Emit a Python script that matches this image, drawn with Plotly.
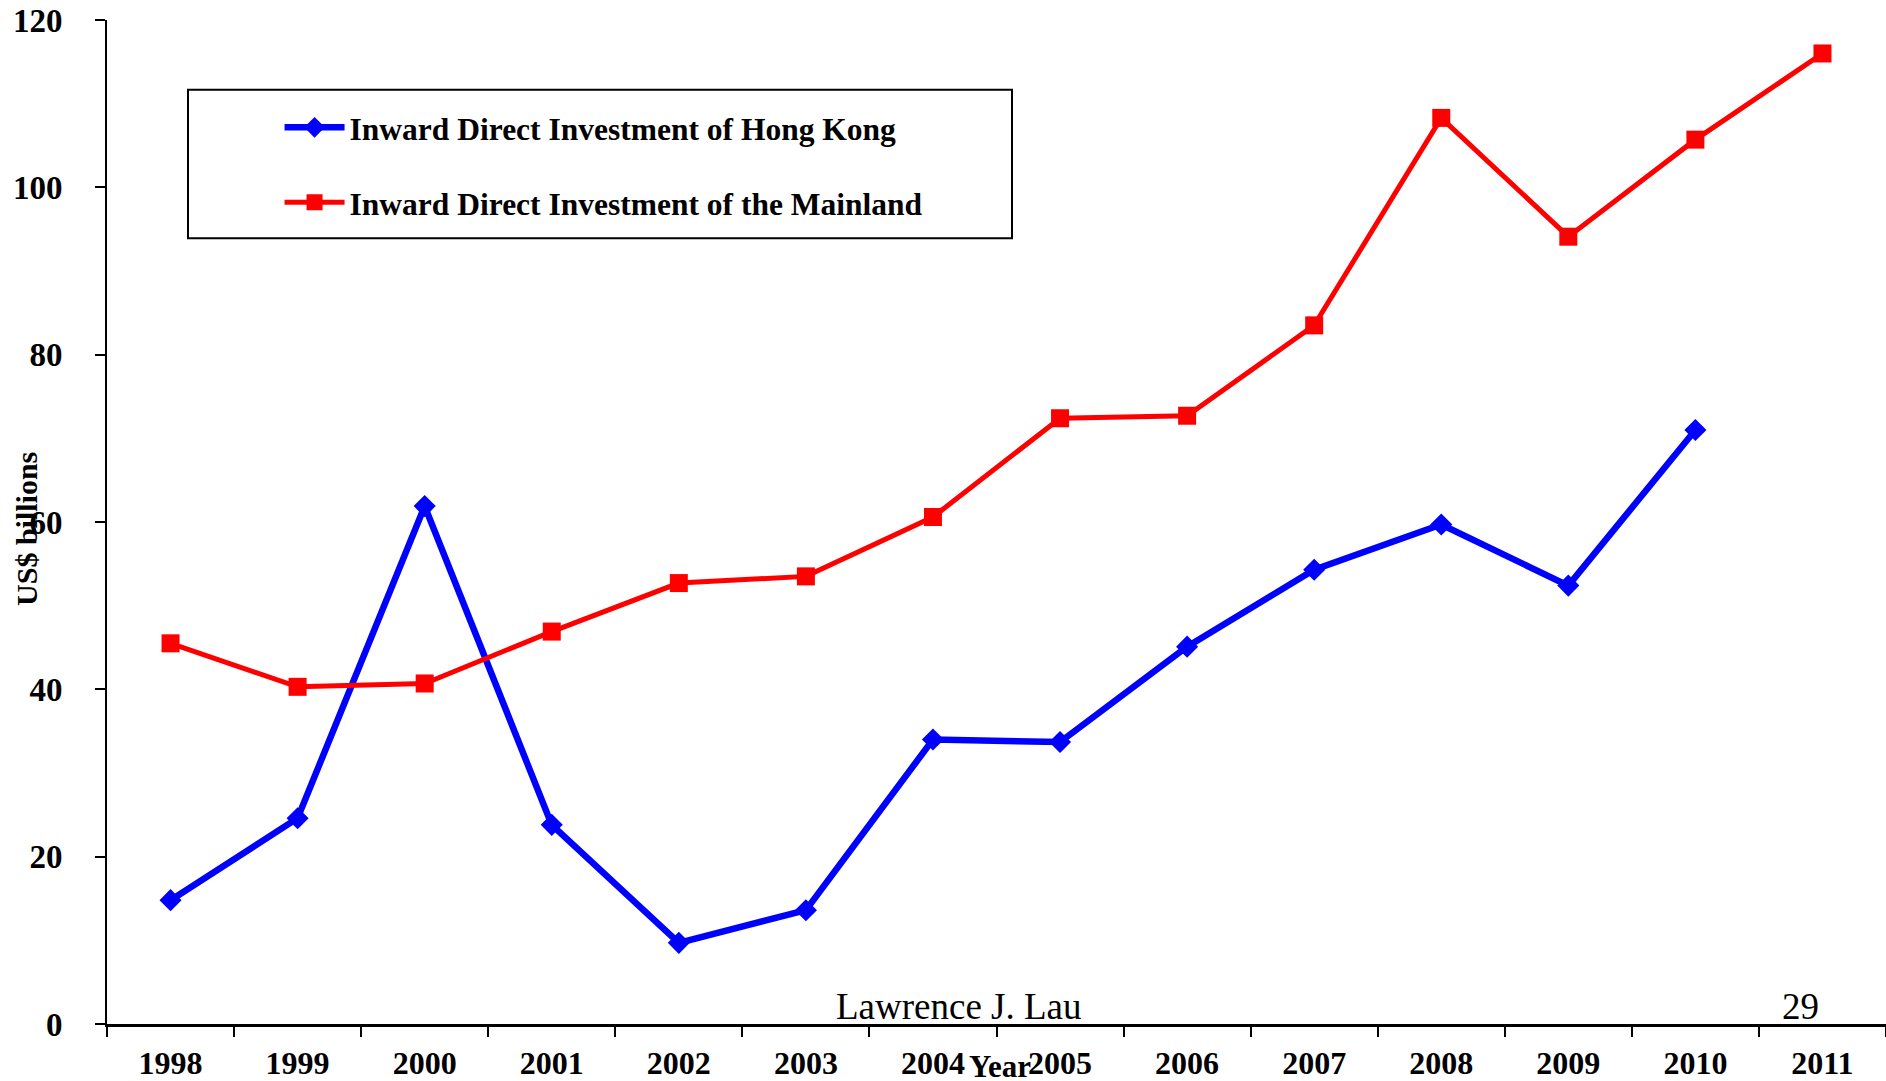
import plotly.graph_objects as go

# Inward FDI, US$ billions
years = ["1998", "1999", "2000", "2001", "2002", "2003", "2004",
         "2005", "2006", "2007", "2008", "2009", "2010", "2011"]
hong_kong = [14.8, 24.6, 61.9, 23.8, 9.7, 13.6, 34.0,
             33.7, 45.1, 54.3, 59.7, 52.4, 71.0, None]
mainland = [45.5, 40.3, 40.7, 46.9, 52.7, 53.5, 60.6,
            72.4, 72.7, 83.5, 108.3, 94.1, 105.7, 116.0]
y_ticks = [0, 20, 40, 60, 80, 100, 120]

SERIF = "Liberation Serif"

fig = go.Figure()
fig.add_trace(go.Scatter(
    x=years, y=hong_kong, mode="lines+markers",
    name="Inward Direct Investment of Hong Kong", legendgroup="hk",
    line=dict(color="#0000FF", width=6.5),
    marker=dict(symbol="diamond", size=17, color="#0000FF"),
))
fig.add_trace(go.Scatter(
    x=years, y=mainland, mode="lines+markers",
    name="Inward Direct Investment of the Mainland", legendgroup="ml",
    line=dict(color="#FF0000", width=5),
    marker=dict(symbol="square", size=18, color="#FF0000"),
))

fig.update_layout(
    width=1886, height=1081,
    margin=dict(l=107, r=0, t=20, b=53),
    paper_bgcolor="white", plot_bgcolor="white",
    font=dict(family=SERIF, color="black", size=31),
    showlegend=True,
    legend=dict(
        x=0.097, y=0.92, xanchor="left", yanchor="top",
        bgcolor="rgba(0,0,0,0)", borderwidth=0,
        font=dict(family=SERIF, size=31.5, weight="bold"),
        itemwidth=60, tracegroupgap=31,
    ),
    shapes=[dict(
        type="rect", xref="paper", yref="paper",
        x0=(188 - 107) / 1779, x1=(1012 - 107) / 1779,
        y0=(1028 - 239) / 1008, y1=(1028 - 90) / 1008,
        line=dict(color="black", width=2),
    )],
)

fig.update_xaxes(
    type="category", range=[-0.5, 13.5],
    showgrid=False, zeroline=False,
    showline=True, linecolor="black", linewidth=3,
    ticks="outside", tickson="boundaries", ticklen=10, tickcolor="black", tickwidth=2,
    tickfont=dict(family=SERIF, size=32, weight="bold"),
    ticklabelstandoff=9,
)
fig.update_yaxes(
    range=[0, 120], tickvals=y_ticks,
    showgrid=False, zeroline=False,
    showline=True, linecolor="black", linewidth=2,
    ticks="outside", ticklen=10, tickcolor="black", tickwidth=2,
    tickfont=dict(family=SERIF, size=33, weight="bold"),
    ticklabelstandoff=26,
)

fig.add_annotation(
    text="US$ billions", textangle=-90,
    xref="paper", yref="paper", x=(27 - 107) / 1779, y=(1028 - 531) / 1008,
    xanchor="center", yanchor="middle",
    showarrow=False, font=dict(family=SERIF, size=30, weight="bold"),
)
fig.add_annotation(
    text="Year", xref="paper", yref="paper",
    x=(1000 - 107) / 1779, y=(1028 - 1071) / 1008,
    xanchor="center", yanchor="middle",
    showarrow=False, font=dict(family=SERIF, size=31, weight="bold"),
)
fig.add_annotation(
    text="Lawrence J. Lau", xref="paper", yref="paper",
    x=(959 - 107) / 1779, y=(1028 - 1010) / 1008,
    xanchor="center", yanchor="middle",
    showarrow=False, font=dict(family=SERIF, size=37),
)
fig.add_annotation(
    text="29", xref="paper", yref="paper",
    x=(1800 - 107) / 1779, y=(1028 - 1010) / 1008,
    xanchor="center", yanchor="middle",
    showarrow=False, font=dict(family=SERIF, size=37),
)

fig.write_html(
    "out.html",
    config={"displayModeBar": False},
    post_script="document.body.style.margin='0';document.body.style.overflow='hidden';",
)
